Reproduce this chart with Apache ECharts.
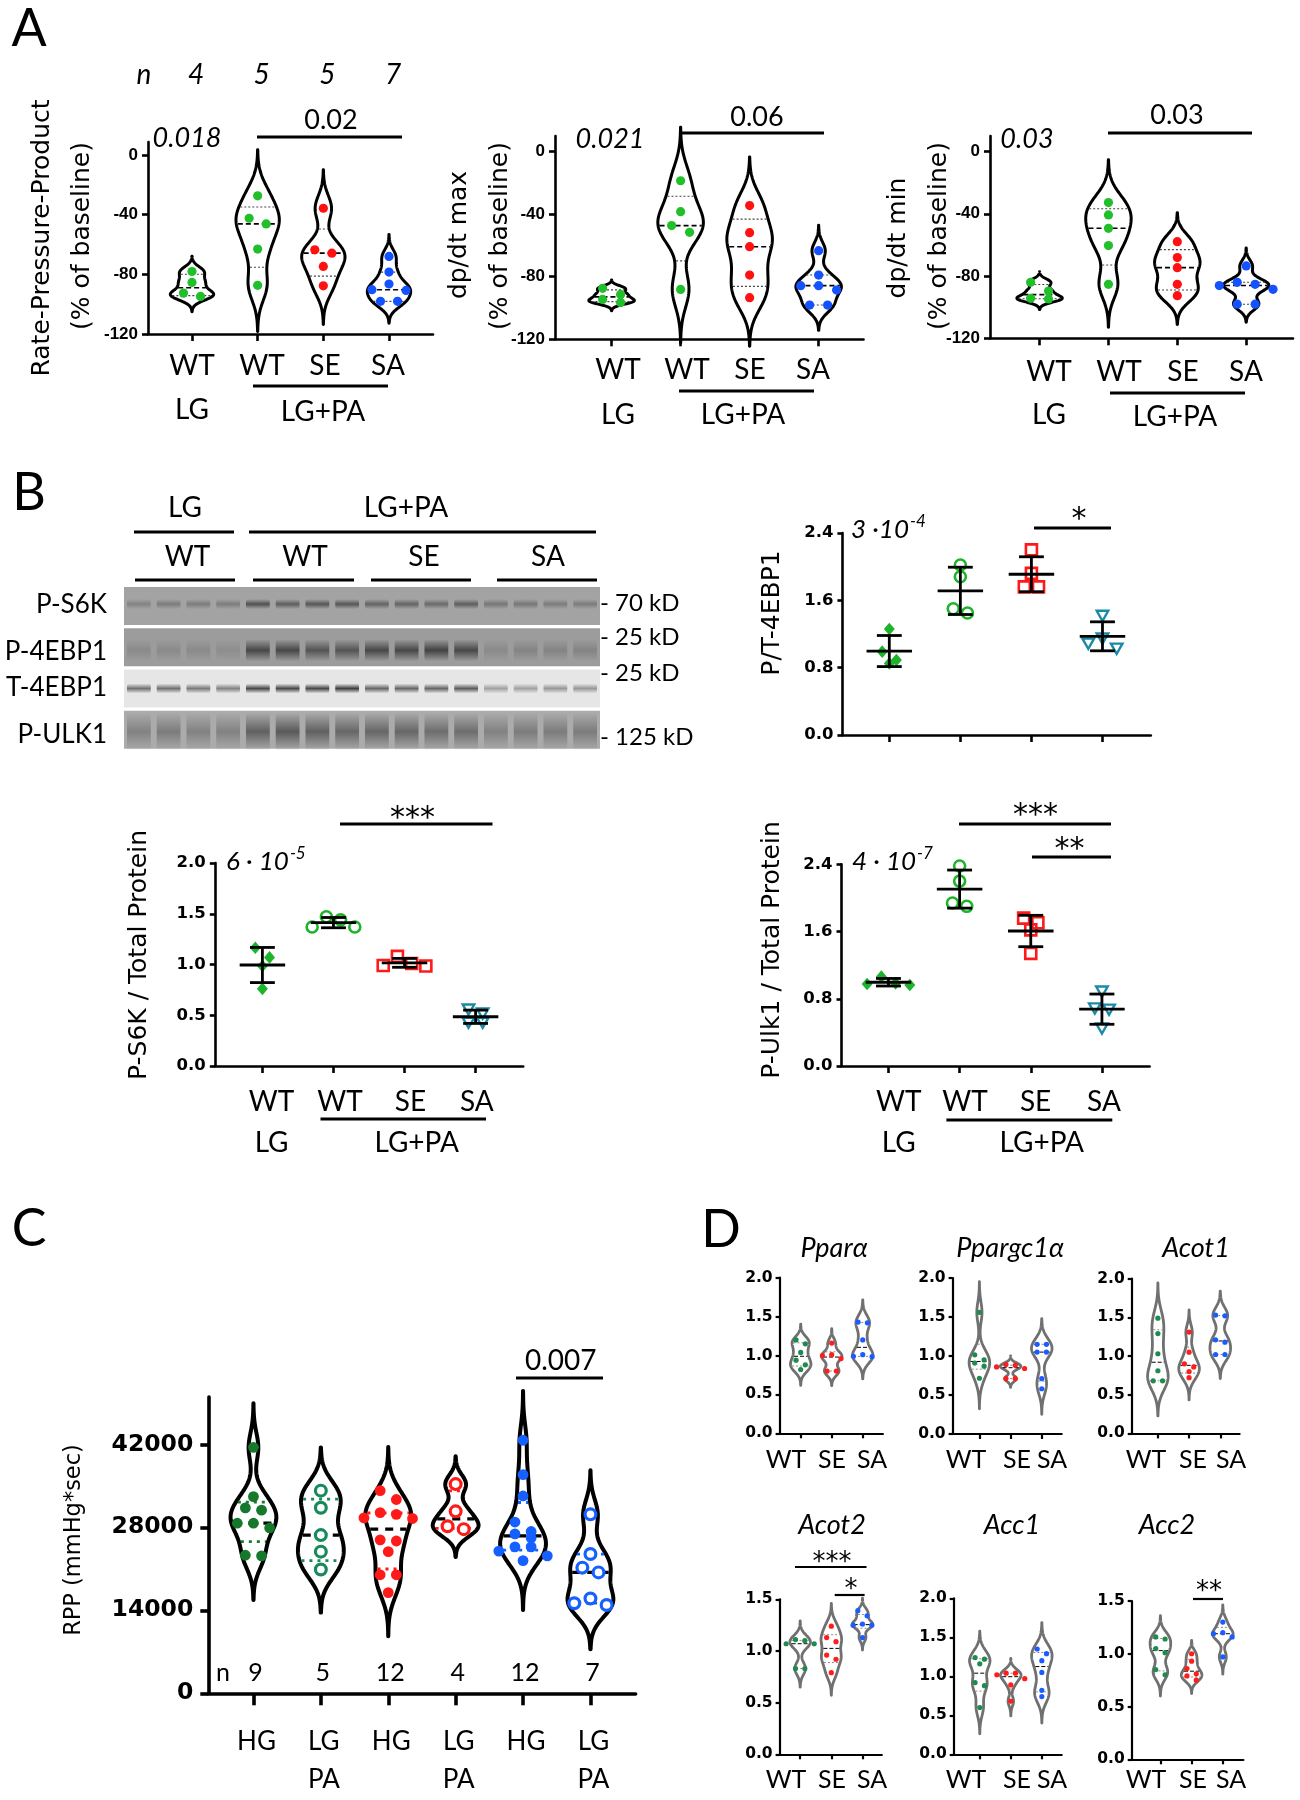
<!DOCTYPE html>
<html><head><meta charset="utf-8">
<script src="https://cdn.jsdelivr.net/npm/echarts@6/dist/echarts.min.js"></script>
<style>html,body{margin:0;padding:0;background:#fff}#c{width:1300px;height:1800px}</style>
</head><body><div id="c"></div>
<script>
// ================= DATA =================
// Panel A : % of baseline (LG WT, LG+PA WT, LG+PA SE, LG+PA SA)
const aCategories = ['WT', 'WT', 'SE', 'SA'];
const aRppWT_LG = [-78.1, -85.4, -92.6, -94.8];
const aRppWT_PA = [-27.4, -42.4, -46.2, -63.1, -87.4];
const aRppSE_PA = [-35.7, -63.6, -65.8, -74.7, -87.7];
const aRppSA_PA = [-68.0, -78.5, -86.5, -90.3, -90.8, -98.1, -98.1];
const aMaxWT_LG = [-87.4, -91.3, -94.5, -96.4];
const aMaxWT_PA = [-18.6, -38.4, -47.3, -51.6, -88.1];
const aMaxSE_PA = [-34.5, -51.8, -60.8, -78.9, -93.4];
const aMaxSA_PA = [-63.3, -78.9, -85.7, -85.7, -88.5, -98.1, -98.1];
const aMinWT_LG = [-84.0, -89.6, -94.3, -94.7];
const aMinWT_PA = [-32.8, -40.7, -49.3, -60.4, -85.3];
const aMinSE_PA = [-57.9, -68.1, -74.6, -85.3, -92.6];
const aMinSA_PA = [-73.5, -84.0, -85.3, -86.1, -88.5, -98.1, -98.1];
const aYTicks = [-120, -80, -40, 0];
const aPOverall = ['0.018', '0.021', '0.03'];
const aPPair = ['0.02', '0.06', '0.03'];

// Panel B : western blot band intensities (16 lanes: LG WT x4, LG+PA WT x4, SE x4, SA x4)
const blotRows = ['P-S6K', 'P-4EBP1', 'T-4EBP1', 'P-ULK1'];
const blotMarkers = ['- 70 kD', '- 25 kD', '- 25 kD', '- 125 kD'];
const blotPS6K   = [0.25,0.30,0.30,0.30, 0.65,0.55,0.60,0.60, 0.50,0.50,0.45,0.55, 0.35,0.35,0.30,0.30];
const blotP4EBP1 = [0.15,0.15,0.15,0.12, 0.70,0.70,0.60,0.60, 0.70,0.70,0.75,0.70, 0.15,0.20,0.20,0.20];
const blotT4EBP1 = [0.60,0.60,0.55,0.50, 0.80,0.80,0.80,0.85, 0.65,0.65,0.65,0.70, 0.35,0.35,0.40,0.40];
const blotPULK1  = [0.30,0.35,0.30,0.30, 0.55,0.60,0.55,0.50, 0.50,0.50,0.45,0.45, 0.30,0.35,0.35,0.35];
// Panel B : quantification (WT LG, WT LG+PA, SE LG+PA, SA LG+PA)
const bPT4EBP1 = [[1.26, 0.99, 0.85, 0.89], [2.02, 1.88, 1.45, 1.50], [2.20, 1.92, 1.76, 1.76], [1.42, 1.15, 1.03, 1.09]];
const bPS6K    = [[1.165, 1.07, 0.985, 0.76], [1.47, 1.44, 1.37, 1.37], [1.08, 0.985, 0.99, 1.01], [0.56, 0.52, 0.43, 0.43]];
const bPUlk1   = [[0.964, 1.063, 0.976, 0.984], [2.38, 2.20, 1.90, 1.94], [1.705, 1.76, 1.62, 1.34], [0.89, 0.69, 0.675, 0.45]];
const bTicks24 = [0, 0.8, 1.6, 2.4];
const bTicks20 = [0, 0.5, 1.0, 1.5, 2.0];

// Panel C : RPP (mmHg*sec)
const cLabels = [['HG'], ['LG', 'PA'], ['HG'], ['LG', 'PA'], ['HG'], ['LG', 'PA']];
const cWT_HG   = [41500, 33200, 31300, 30900, 28700, 28700, 27900, 23300, 23200];
const cWT_LGPA = [34200, 31300, 26700, 23900, 20900];
const cSE_HG   = [34200, 32700, 30500, 30200, 29600, 29500, 25900, 25700, 23900, 20000, 20000, 17000];
const cSE_LGPA = [35300, 30700, 28200, 27700];
const cSA_HG   = [42700, 36900, 33300, 28900, 27300, 26900, 26200, 24700, 24700, 24000, 23200, 22400];
const cSA_LGPA = [30200, 23500, 21200, 20400, 16000, 15200, 14900];
const cYTicks = [0, 14000, 28000, 42000];

// Panel D : relative expression (WT, SE, SA)
const dCategories = ['WT', 'SE', 'SA'];
const dGenes = ['Ppar\u03b1', 'Ppargc1\u03b1', 'Acot1', 'Acot2', 'Acc1', 'Acc2'];
const dPpara    = [[0.82, 0.88, 0.94, 1.04, 1.15, 1.20], [1.16, 1.01, 1.00, 0.96, 0.80, 0.80], [1.42, 1.43, 1.20, 0.99, 1.01, 0.985]];
const dPpargc1a = [[1.56, 1.015, 0.95, 0.91, 0.87, 0.715], [0.89, 0.88, 0.86, 0.84, 0.71, 0.71], [1.15, 1.15, 1.05, 1.05, 0.71, 0.58]];
const dAcot1    = [[1.49, 1.29, 1.03, 0.81, 0.68, 0.68], [1.31, 1.05, 0.90, 0.86, 0.80, 0.72], [1.52, 1.53, 1.18, 1.21, 1.02, 1.02]];
const dAcot2    = [[1.10, 1.11, 1.07, 1.07, 0.83, 0.83], [1.24, 1.13, 1.09, 0.96, 0.92, 0.79], [1.39, 1.34, 1.26, 1.25, 1.25, 1.13]];
const dAcc1     = [[1.22, 1.24, 1.16, 0.92, 0.88, 0.60], [1.02, 1.04, 1.04, 0.97, 0.89, 0.68], [1.35, 1.29, 1.20, 1.05, 0.82, 0.74]];
const dAcc2     = [[1.14, 1.16, 1.05, 1.01, 0.85, 0.80], [1.00, 0.93, 0.81, 0.86, 0.79, 0.75], [1.30, 1.20, 1.19, 1.16, 0.97]];
const dTicks20 = [0, 0.5, 1.0, 1.5, 2.0];
const dTicks15 = [0, 0.5, 1.0, 1.5];

// ================= HELPERS =================
function stats(v) { const n = v.length, m = v.reduce((a, b) => a + b, 0) / n;
  const sd = Math.sqrt(v.reduce((a, b) => a + (b - m) * (b - m), 0) / (n - 1)); return { n, m, sd }; }
function pct(v, p) { const s = [...v].sort((a, b) => a - b), n = s.length; let pos = p * (n + 1) - 1;
  pos = Math.max(0, Math.min(n - 1, pos)); const lo = Math.floor(pos), hi = Math.ceil(pos);
  return s[lo] + (s[hi] - s[lo]) * (pos - lo); }
function profile(v, bwf) { const h = bwf * stats(v).sd; const mn = Math.min(...v), mx = Math.max(...v);
  const lo = mn - 3 * h, hi = mx + 3 * h, N = 140, out = []; let dmax = 0;
  for (let i = 0; i <= N; i++) { const y = lo + (hi - lo) * i / N; let d = 0;
    for (const x of v) { const z = (y - x) / h; d += Math.exp(-0.5 * z * z); }
    out.push({ y, d }); if (d > dmax) dmax = d; }
  out.forEach(p => p.w = p.d / dmax); return out; }
function widthAt(prof, y) { for (let i = 1; i < prof.length; i++) { if (prof[i].y >= y) { const a = prof[i - 1], b = prof[i];
  const t = (y - a.y) / (b.y - a.y); return a.w + (b.w - a.w) * t; } } return 0; }
function swarm(pys, thr) {
  const idx = pys.map((y, i) => i).sort((a, b) => pys[a] - pys[b]);
  const off = new Array(pys.length).fill(0); let row = [];
  const flush = () => { const m = row.length, slots = [];
    for (let k = 0; k < m; k++) slots.push(k - (m - 1) / 2);
    slots.sort((a, b) => Math.abs(a) - Math.abs(b) || a - b);
    row.forEach((id, k) => off[id] = slots[k]); row = []; };
  for (const id of idx) { if (row.length && pys[id] - pys[row[0]] > thr) flush(); row.push(id); }
  flush(); return off;
}

function violinSeries(gi, groups, colors, hollow, st) {
  return { type: 'custom', xAxisIndex: gi, yAxisIndex: gi, silent: true, clip: false, z: 3,
    data: groups.map((g, i) => [i, pct(g, 0.5)]), encode: { x: 0, y: 1 },
    renderItem(params, api) {
      const i = params.dataIndex, v = groups[i];
      const prof = profile(v, st.bw); const R = [], L = [];
      prof.forEach(p => { R.push(api.coord([i + p.w * st.hw, p.y])); L.push(api.coord([i - p.w * st.hw, p.y])); });
      const ch = [{ type: 'polygon', shape: { points: R.concat(L.reverse()) },
        style: { fill: '#fff', stroke: st.stroke, lineWidth: st.lw, lineJoin: 'round' } }];
      const hl = (val, style) => { const w = widthAt(prof, val) * st.hw; const a = api.coord([i - w, val]), b = api.coord([i + w, val]);
        ch.push({ type: 'line', shape: { x1: a[0] + st.lw / 2, y1: a[1], x2: b[0] - st.lw / 2, y2: b[1] }, style }); };
      const qs = Object.assign({}, st.quart, { stroke: st.quartColor || colors[i] });
      hl(pct(v, 0.25), qs); hl(pct(v, 0.75), qs); hl(pct(v, 0.5), st.median);
      const pys = v.map(x => api.coord([i, x])[1]); const off = swarm(pys, st.thr);
      v.forEach((x, k) => { const p = api.coord([i + off[k] * st.spacing, x]);
        if (hollow[i]) ch.push({ type: 'circle', shape: { cx: p[0], cy: p[1], r: st.hr }, style: { fill: '#fff', stroke: colors[i], lineWidth: st.hlw } });
        else ch.push({ type: 'circle', shape: { cx: p[0], cy: p[1], r: st.r }, style: { fill: colors[i] } }); });
      return { type: 'group', children: ch };
    } };
}
function symbol(shape, x, y, s, c) {
  if (shape === 'diamond') return { type: 'polygon', shape: { points: [[x, y - s * 1.15], [x + s, y], [x, y + s * 1.15], [x - s, y]] }, style: { fill: c } };
  if (shape === 'circle') return { type: 'circle', shape: { cx: x, cy: y, r: s }, style: { fill: 'none', stroke: c, lineWidth: 2.6 } };
  if (shape === 'square') return { type: 'rect', shape: { x: x - s, y: y - s, width: 2 * s, height: 2 * s }, style: { fill: 'none', stroke: c, lineWidth: 2.6 } };
  return { type: 'polygon', shape: { points: [[x - s * 1.05, y - s * 0.85], [x + s * 1.05, y - s * 0.85], [x, y + s * 1.0]] }, style: { fill: 'none', stroke: c, lineWidth: 2.4 } };
}
const bShapes = ['diamond', 'circle', 'square', 'triangle'];
const bColors = ['#1db32a', '#1db32a', '#ff1a1a', '#1b8aa6'];
function scatterSeries(gi, groups) {
  const st = { thr: 11, spacing: 0.2, size: 5.5, lw: 2.8, mhw: 0.32, chw: 0.175 };
  return { type: 'custom', xAxisIndex: gi, yAxisIndex: gi, silent: true, clip: false, z: 3,
    data: groups.map((g, i) => [i, stats(g).m]), encode: { x: 0, y: 1 },
    renderItem(params, api) {
      const i = params.dataIndex, v = groups[i], s = stats(v), m = s.m, sd = s.sd, ch = [];
      const pys = v.map(x => api.coord([i, x])[1]); const off = swarm(pys, st.thr);
      v.forEach((x, k) => { const p = api.coord([i + off[k] * st.spacing, x]); ch.push(symbol(bShapes[i], p[0], p[1], st.size, bColors[i])); });
      const seg = (x1, y1, x2, y2) => { const a = api.coord([x1, y1]), b = api.coord([x2, y2]);
        ch.push({ type: 'line', shape: { x1: a[0], y1: a[1], x2: b[0], y2: b[1] }, style: { stroke: '#000', lineWidth: st.lw } }); };
      seg(i - st.mhw, m, i + st.mhw, m); seg(i, m - sd, i, m + sd);
      seg(i - st.chw, m + sd, i + st.chw, m + sd); seg(i - st.chw, m - sd, i + st.chw, m - sd);
      return { type: 'group', children: ch };
    } };
}

// ================= LAYOUT =================
const grids = [
  { left: 148, top: 142, width: 285, height: 192 },        // 0 A1
  { left: 555, top: 136, width: 308.5, height: 203.3 },    // 1 A2
  { left: 990, top: 136, width: 303, height: 202.3 },      // 2 A3
  { left: 842.4, top: 533, width: 308.4, height: 202 },    // 3 B P/T-4EBP1
  { left: 214.8, top: 863, width: 308.4, height: 203 },    // 4 B P-S6K
  { left: 841.5, top: 864.3, width: 308.1, height: 201.7 },// 5 B P-Ulk1
  { left: 208.3, top: 1397, width: 427.3, height: 296.3 }, // 6 C
  { left: 779.6, top: 1277.7, width: 103.3, height: 155.6 },// 7 D1
  { left: 952.6, top: 1278, width: 109.1, height: 156 },   // 8 D2
  { left: 1131.7, top: 1278.7, width: 107.9, height: 154.7 },// 9 D3
  { left: 779.6, top: 1599.3, width: 102.2, height: 155 }, // 10 D4
  { left: 953.7, top: 1598.3, width: 108, height: 156 },   // 11 D5
  { left: 1131.7, top: 1601, width: 111.7, height: 158.3 },// 12 D6
  { left: 124, top: 587, width: 476, height: 165 }         // 13 blot
].map(g => Object.assign({ containLabel: false }, g));

const F_LAB = 'Lato, "Open Sans", sans-serif';
const F_TTL = '"DejaVu Sans", Verdana, sans-serif';
const F_TKA = '"Liberation Sans", Arial, sans-serif';

const xr = [[-0.67, 3.67], [-0.82, 3.65], [-0.72, 3.68], [-0.66, 3.68], [-0.67, 3.67], [-0.66, 3.67], [-0.67, 5.67],
  [-0.68, 2.65], [-0.86, 2.64], [-0.84, 2.62], [-0.66, 2.62], [-0.84, 2.64], [-0.92, 2.66]];
const yr = [[-120, 8.7], [-120, 10], [-120, 10], [0, 2.4], [0, 2.0], [0, 2.4], [0, 50000], [0, 2], [0, 2], [0, 2], [0, 1.5], [0, 2], [0, 1.5]];
const yt = [aYTicks, aYTicks, aYTicks, bTicks24, bTicks20, bTicks24, cYTicks, dTicks20, dTicks20, dTicks20, dTicks15, dTicks20, dTicks15];
const nCat = [4, 4, 4, 4, 4, 4, 6, 3, 3, 3, 3, 3, 3];
function panelStyle(i) {
  if (i < 3) return { w: 2.6, xtl: 7, ytl: 6, ff: F_TKA, fs: 17, m: 10, fmt: v => String(v) };
  if (i < 6) return { w: 2.6, xtl: 7, ytl: 5, ff: F_TTL, fs: 16.5, m: 9, fmt: v => v.toFixed(1) };
  if (i === 6) return { w: 3.6, xtl: 12, ytl: 8, ff: F_TTL, fs: 23.5, m: 15, fmt: v => String(v) };
  return { w: 2.2, xtl: 5, ytl: 4, ff: F_TTL, fs: 15.5, m: 7, fmt: v => v.toFixed(1) };
}
const xAxes = [], yAxes = [];
for (let i = 0; i < 13; i++) {
  const s = panelStyle(i);
  xAxes.push({ type: 'value', gridIndex: i, min: xr[i][0], max: xr[i][1],
    axisLine: { show: true, onZero: false, lineStyle: { color: '#000', width: s.w } },
    axisTick: { show: true, customValues: Array.from({ length: nCat[i] }, (_, k) => k), length: s.xtl, lineStyle: { color: '#000', width: s.w } },
    axisLabel: { show: false }, splitLine: { show: false } });
  yAxes.push({ type: 'value', gridIndex: i, min: yr[i][0], max: yr[i][1],
    axisLine: { show: true, onZero: false, lineStyle: { color: '#000', width: s.w } },
    axisTick: { show: true, customValues: yt[i], length: s.ytl, lineStyle: { color: '#000', width: s.w } },
    axisLabel: { show: true, customValues: yt[i], formatter: s.fmt, color: '#000', fontFamily: s.ff, fontWeight: 'bold', fontSize: s.fs, margin: s.m },
    splitLine: { show: false } });
}
xAxes.push({ type: 'value', gridIndex: 13, min: -0.5, max: 15.5, show: false });
yAxes.push({ type: 'value', gridIndex: 13, min: 0, max: 4, inverse: true, show: false });

// ================= SERIES =================
const aColors = ['#22bf2c', '#22bf2c', '#ff1111', '#1451ff'];
const aStyle = { hw: 0.33, bw: 0.45, stroke: '#000', lw: 3, r: 4.6, hr: 4.6, hlw: 2.5, spacing: 0.26, thr: 10,
  median: { stroke: '#000', lineWidth: 1.6, lineDash: [5, 3] }, quart: { lineWidth: 1.1, lineDash: [2, 2] }, quartColor: '#444' };
const cColors = ['#15782a', '#178a5c', '#ff1a1a', '#ff1a1a', '#1560ff', '#1560ff'];
const cStyle = { hw: 0.34, bw: 0.45, stroke: '#000', lw: 4, r: 5.4, hr: 5.4, hlw: 3.2, spacing: 0.24, thr: 10,
  median: { stroke: '#000', lineWidth: 3.2, lineDash: [8, 7] }, quart: { lineWidth: 2.8, lineDash: [3, 5] } };
const dColors = ['#1e8a4e', '#ff1c1c', '#1a5cff'];
const dStyle = { hw: 0.33, bw: 0.45, stroke: '#707070', lw: 2.8, r: 2.6, hr: 2.6, hlw: 1, spacing: 0.3, thr: 6,
  median: { stroke: '#000', lineWidth: 1, lineDash: [4, 2] }, quart: { lineWidth: 1, lineDash: [2, 2] }, quartColor: '#8a8a8a' };
const noHollow = [false, false, false, false, false, false];

const blotData = [blotPS6K, blotP4EBP1, blotT4EBP1, blotPULK1];
const stripBg = ['#a3a3a3', '#9c9c9c', '#e6e6e6', '#ababab'];
const bandCenter = [0.45, 0.58, 0.5, 0.55];
const bandH = [10, 22, 10, 40];
const bandItems = [];
blotData.forEach((row, r) => row.forEach((a, lane) => bandItems.push([lane, r, a])));

const series = [
  violinSeries(0, [aRppWT_LG, aRppWT_PA, aRppSE_PA, aRppSA_PA], aColors, noHollow, aStyle),
  violinSeries(1, [aMaxWT_LG, aMaxWT_PA, aMaxSE_PA, aMaxSA_PA], aColors, noHollow, aStyle),
  violinSeries(2, [aMinWT_LG, aMinWT_PA, aMinSE_PA, aMinSA_PA], aColors, noHollow, aStyle),
  scatterSeries(3, bPT4EBP1), scatterSeries(4, bPS6K), scatterSeries(5, bPUlk1),
  violinSeries(6, [cWT_HG, cWT_LGPA, cSE_HG, cSE_LGPA, cSA_HG, cSA_LGPA], cColors, [false, true, false, true, false, true], cStyle),
  violinSeries(7, dPpara, dColors, noHollow, dStyle), violinSeries(8, dPpargc1a, dColors, noHollow, dStyle),
  violinSeries(9, dAcot1, dColors, noHollow, dStyle), violinSeries(10, dAcot2, dColors, noHollow, dStyle),
  violinSeries(11, dAcc1, dColors, noHollow, dStyle), violinSeries(12, dAcc2, dColors, noHollow, dStyle),
  { type: 'custom', xAxisIndex: 13, yAxisIndex: 13, silent: true, z: 1, data: blotRows.map((n, r) => [0, r]), encode: { x: 0, y: 1 },
    renderItem(params, api) { const r = params.dataIndex; const a = api.coord([-0.5, r]), b = api.coord([15.5, r + 0.92]);
      return { type: 'rect', shape: { x: a[0], y: a[1], width: b[0] - a[0], height: b[1] - a[1] }, style: { fill: stripBg[r] } }; } },
  { type: 'custom', xAxisIndex: 13, yAxisIndex: 13, silent: true, z: 2, data: bandItems, encode: { x: 0, y: 1 },
    renderItem(params, api) {
      const lane = api.value(0), r = api.value(1), a = api.value(2);
      const top = api.coord([lane, r])[1], bot = api.coord([lane, r + 0.92])[1], cx = api.coord([lane, r])[0];
      const lw = api.size([1, 0])[0] * 0.8, cy = top + (bot - top) * bandCenter[r], h = Math.min(bandH[r], bot - top);
      const col = (al) => 'rgba(35,35,35,' + al + ')';
      return { type: 'rect', shape: { x: cx - lw / 2, y: Math.max(top, cy - h / 2), width: lw, height: h, r: 3 },
        style: { fill: new echarts.graphic.LinearGradient(0, 0, 0, 1, [{ offset: 0, color: col(0) }, { offset: 0.5, color: col(a) }, { offset: 1, color: col(0) }]) } };
    } }
];

const chart = echarts.init(document.getElementById('c'), null, { renderer: 'canvas', width: 1300, height: 1800 });
chart.setOption({ animation: false, backgroundColor: '#fff', grid: grids, xAxis: xAxes, yAxis: yAxes, series });

// ================= TEXT / ANNOTATIONS =================
const G = [];
function T(x, y, text, o = {}) {
  const al = o.align || 'center', va = o.va || 'middle';
  G.push({ type: 'text', x, y, rotation: o.rot || 0, silent: true, z: 10,
    style: { text, fill: o.color || '#000', fontSize: o.size || 28, fontFamily: o.ff || F_LAB, fontWeight: o.weight || 'normal',
      fontStyle: o.style || 'normal', textAlign: al, textVerticalAlign: va, align: al, verticalAlign: va } });
}
function L(x1, y1, x2, y2, w = 3) { G.push({ type: 'line', silent: true, z: 10, shape: { x1, y1, x2, y2 }, style: { stroke: '#000', lineWidth: w } }); }
const mctx = document.createElement('canvas').getContext('2d');
function TSup(x, y, base, sup, size) {
  mctx.font = 'italic ' + size + 'px Lato';
  const w = mctx.measureText(base).width;
  T(x, y, base, { style: 'italic', size, align: 'left' });
  T(x + w + 1, y - size * 0.33, sup, { style: 'italic', size: Math.round(size * 0.64), align: 'left' });
}
const px = (gi, x, y) => chart.convertToPixel({ gridIndex: gi }, [x, y]);
const ROT = Math.PI / 2;

// Panel letters
T(29, 29, 'A', { size: 52 }); T(29, 493, 'B', { size: 52 }); T(29, 1229, 'C', { size: 52 }); T(721, 1230, 'D', { size: 52 });

// ---- Panel A ----
T(144, 75, 'n', { style: 'italic', size: 28 });
[aRppWT_LG, aRppWT_PA, aRppSE_PA, aRppSA_PA].forEach((g, i) => T(px(0, i, 0)[0] + 4, 75, String(g.length), { style: 'italic', size: 28 }));
const aTitles = [['Rate-Pressure-Product', 42, 82, 238], ['dp/dt max', 459, 500, 235], ['dp/dt min', 898, 939, 238]];
aTitles.forEach(t => { T(t[1], t[3], t[0], { ff: F_TTL, size: 25, rot: ROT }); T(t[2], 236, '(% of baseline)', { ff: F_TTL, size: 25, rot: ROT }); });
T(187, 138, aPOverall[0], { style: 'italic', size: 27 }); T(331, 120, aPPair[0], { size: 27 }); L(257, 137, 402, 137);
T(610, 139, aPOverall[1], { style: 'italic', size: 27 }); T(757, 117, aPPair[1], { size: 27 }); L(680, 133, 824, 133);
T(1027, 139, aPOverall[2], { style: 'italic', size: 27 }); T(1177, 115, aPPair[2], { size: 27 }); L(1108, 133, 1252, 133);
const aLabX = [[192, 262, 325, 388], [618, 687, 750, 813], [1049, 1119, 1183, 1246]];
const aLabY = [366, 370, 372];
aLabX.forEach((xs, p) => xs.forEach((x, i) => T(x, aLabY[p], aCategories[i], { size: 28 })));
T(192, 410, 'LG', { size: 28 }); T(323, 412, 'LG+PA', { size: 28 }); L(253, 386, 388, 386);
T(618, 415, 'LG', { size: 28 }); T(743, 415, 'LG+PA', { size: 28 }); L(679, 391, 814, 391);
T(1049, 415, 'LG', { size: 28 }); T(1175, 417, 'LG+PA', { size: 28 }); L(1110, 393, 1245, 393);

// ---- Panel B blot ----
T(185, 508, 'LG', { size: 28 }); T(406, 508, 'LG+PA', { size: 28 }); L(134, 532, 234, 532); L(249, 532, 596, 532);
[[187.5, 'WT'], [305, 'WT'], [424, 'SE'], [548, 'SA']].forEach(a => T(a[0], 557, a[1], { size: 28 }));
L(135, 580, 235, 580); L(253, 580, 354, 580); L(371, 580, 471, 580); L(497, 580, 597, 580);
[605, 652, 688, 735].forEach((y, r) => T(107, y, blotRows[r], { size: 26, align: 'right' }));
[603, 637, 673, 737].forEach((y, r) => T(600, y, blotMarkers[r], { size: 24, align: 'left' }));

// ---- Panel B quantification ----
T(772.7, 613, 'P/T-4EBP1', { ff: F_TTL, size: 25, rot: ROT });
T(139, 955, 'P-S6K / Total Protein', { ff: F_TTL, size: 25, rot: ROT });
T(772.3, 950, 'P-Ulk1 / Total Protein', { ff: F_TTL, size: 25, rot: ROT });
TSup(851, 530, '3 \u00b710', '-4', 26); TSup(226, 862, '6 \u00b7 10', '-5', 26); TSup(852, 862, '4 \u00b7 10', '-7', 26);
T(1079, 520, '*', { ff: F_TTL, size: 30 }); L(1034, 528, 1111, 528);
T(412.5, 819, '***', { ff: F_TTL, size: 30 }); L(340, 824, 492.5, 824);
T(1035.6, 816, '***', { ff: F_TTL, size: 30 }); L(959, 824, 1111, 824);
T(1069.6, 850, '**', { ff: F_TTL, size: 30 }); L(1032, 857, 1111, 857);
[[271.6, 'WT'], [340, 'WT'], [410.4, 'SE'], [476.8, 'SA']].forEach(a => T(a[0], 1102, a[1], { size: 28 }));
T(271.6, 1143, 'LG', { size: 28 }); T(416.7, 1143, 'LG+PA', { size: 28 }); L(320.5, 1119, 486, 1119);
[[898.8, 'WT'], [965, 'WT'], [1035.6, 'SE'], [1104, 'SA']].forEach(a => T(a[0], 1102, a[1], { size: 28 }));
T(898.8, 1143, 'LG', { size: 28 }); T(1041.8, 1143, 'LG+PA', { size: 28 }); L(946.4, 1120, 1112.3, 1120);

// ---- Panel C ----
T(74.6, 1540, 'RPP (mmHg*sec)', { ff: F_TTL, size: 22.5, rot: ROT });
T(223, 1673, 'n', { size: 25 });
[cWT_HG, cWT_LGPA, cSE_HG, cSE_LGPA, cSA_HG, cSA_LGPA].forEach((g, i) => {
  const x = px(6, i, 0)[0];
  T(x + 2, 1673, String(g.length), { size: 25 });
  T(x + 3, 1742, cLabels[i][0], { size: 26 });
  if (cLabels[i][1]) T(x + 3, 1780, cLabels[i][1], { size: 26 });
});
T(560.7, 1361, '0.007', { size: 28 }); L(516, 1378, 603, 1378);

// ---- Panel D ----
const dTitlePos = [[834, 1248], [1010, 1248], [1196, 1248], [832, 1525], [1012, 1525], [1167, 1525]];
dGenes.forEach((g, i) => T(dTitlePos[i][0], dTitlePos[i][1], g, { style: 'italic', size: 27 }));
const dLabX = [[786, 832, 872], [966, 1017, 1052], [1146, 1193, 1231]];
[1460, 1780].forEach(y => dLabX.forEach(xs => xs.forEach((x, k) => T(x, y, dCategories[k], { size: 25 }))));
T(832, 1563, '***', { ff: F_TTL, size: 26 }); L(795, 1567, 866.5, 1567, 2.2);
T(851, 1590, '*', { ff: F_TTL, size: 26 }); L(834.7, 1595, 864.6, 1595, 2.2);
T(1209, 1592, '**', { ff: F_TTL, size: 26 }); L(1193, 1599, 1223, 1599, 2.2);

chart.setOption({ graphic: { elements: G } });
</script></body></html>
